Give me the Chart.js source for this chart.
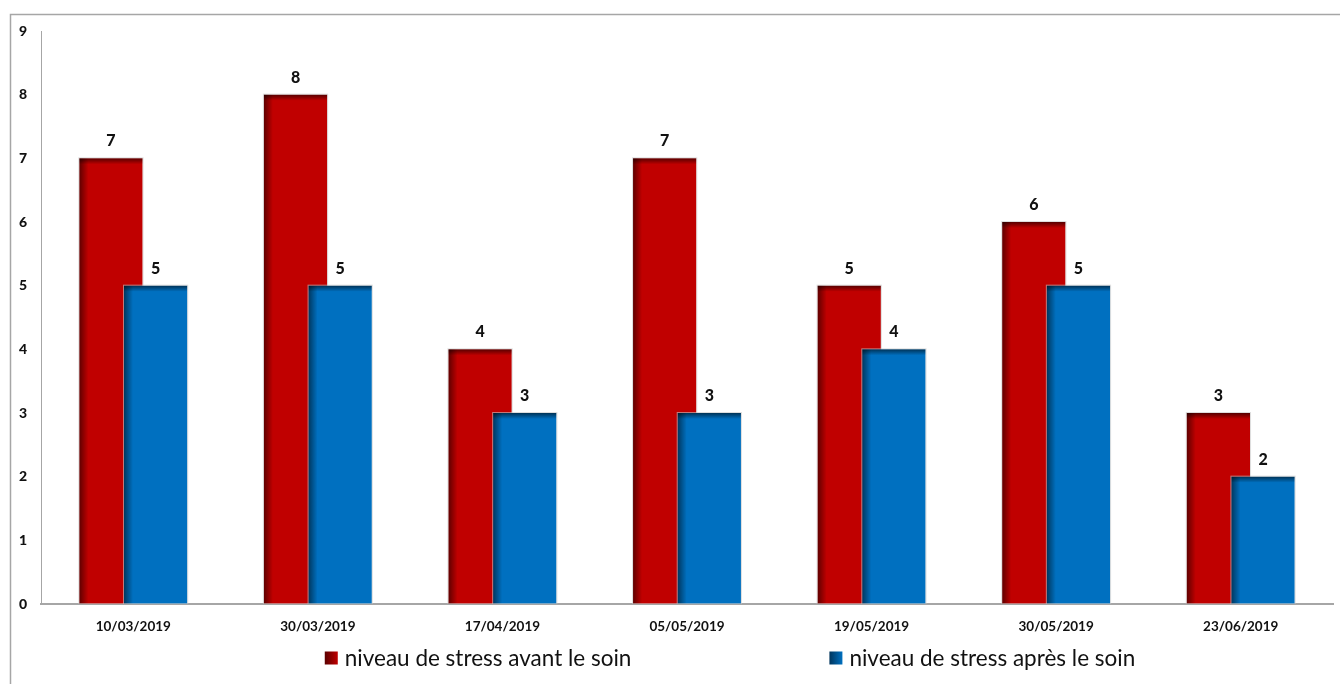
<!DOCTYPE html>
<html>
<head>
<meta charset="utf-8">
<script src="https://cdn.jsdelivr.net/npm/chart.js@4"></script>
<style>
  html, body { margin: 0; padding: 0; background: #fff; }
  #wrap { width: 1340px; height: 684px; position: relative; }
</style>
</head>
<body>
<div id="wrap"><canvas id="c"></canvas></div>
<script>
// Séances (dates) et niveaux de stress relevés avant / après le soin
const dates = ['10/03/2019', '30/03/2019', '17/04/2019', '05/05/2019', '19/05/2019', '30/05/2019', '23/06/2019'];
const stressAvant = [7, 8, 4, 7, 5, 6, 3];
const stressApres = [5, 5, 3, 3, 4, 5, 2];
const yMin = 0;
const yMax = 9;
const yStep = 1;

const labelFont = 'Lato, "Open Sans", sans-serif';

// Cadre gris autour du graphique
const framePlugin = {
  id: 'frame',
  beforeDraw(chart) {
    const ctx = chart.ctx;
    ctx.save();
    ctx.strokeStyle = '#a6a6a6';
    ctx.lineWidth = 1.5;
    ctx.beginPath();
    ctx.moveTo(10.5, chart.height + 5);
    ctx.lineTo(10.5, 14.5);
    ctx.lineTo(chart.width + 5, 14.5);
    ctx.stroke();
    ctx.restore();
  }
};

// Ombre intérieure (haut et gauche) d'une série de barres
function drawBevel(ctx, meta) {
  meta.data.forEach(bar => {
    const p = bar.getProps(['x', 'y', 'base', 'width'], true);
    const left = p.x - p.width / 2;
    const h = p.base - p.y;
    let g = ctx.createLinearGradient(0, p.y, 0, p.y + 6);
    g.addColorStop(0, 'rgba(0,0,0,0.55)');
    g.addColorStop(1, 'rgba(0,0,0,0)');
    ctx.fillStyle = g;
    ctx.fillRect(left, p.y, p.width, 6);
    g = ctx.createLinearGradient(left, 0, left + 9, 0);
    g.addColorStop(0, 'rgba(0,0,0,0.5)');
    g.addColorStop(1, 'rgba(0,0,0,0)');
    ctx.fillStyle = g;
    ctx.fillRect(left, p.y, 9, h);
    ctx.strokeStyle = 'rgba(200,200,200,0.6)';
    ctx.lineWidth = 1;
    ctx.strokeRect(left - 0.5, p.y - 0.5, p.width + 1, h);
  });
}

// Barres dessinées dans l'ordre des séries : la série « après » recouvre la série « avant »
const barOrderPlugin = {
  id: 'barOrder',
  beforeDatasetDraw() { return false; },
  afterDatasetsDraw(chart) {
    const ctx = chart.ctx;
    const area = chart.chartArea;
    chart.data.datasets.forEach((ds, di) => {
      const meta = chart.getDatasetMeta(di);
      ctx.save();
      ctx.beginPath();
      ctx.rect(area.left, area.top - 2, area.width, area.height + 2);
      ctx.clip();
      meta.controller.draw();
      drawBevel(ctx, meta);
      ctx.restore();
    });

    // Valeur affichée au-dessus de chaque barre
    ctx.save();
    ctx.font = '900 16px ' + labelFont;
    ctx.fillStyle = '#111';
    ctx.textAlign = 'center';
    ctx.textBaseline = 'bottom';
    chart.data.datasets.forEach((ds, di) => {
      chart.getDatasetMeta(di).data.forEach((bar, i) => {
        ctx.fillText(String(ds.data[i]), bar.x, bar.y - 9);
      });
    });
    ctx.restore();
  }
};

// Légende en bas, marqueurs carrés dégradés
const bottomLegendPlugin = {
  id: 'bottomLegend',
  afterDraw(chart, args, opts) {
    const ctx = chart.ctx;
    ctx.save();
    ctx.font = opts.fontSize + 'px ' + labelFont;
    ctx.textBaseline = 'middle';
    ctx.textAlign = 'left';
    const box = opts.boxSize;
    const items = chart.data.datasets.map(ds => ({
      label: ds.label,
      color: ds.backgroundColor,
      dark: ds.shadeColor,
      w: box + opts.boxGap + ctx.measureText(ds.label).width
    }));
    const total = items.reduce((s, it) => s + it.w, 0) + opts.itemGap * (items.length - 1);
    let x = opts.centerX - total / 2;
    const y = opts.centerY;
    items.forEach(it => {
      const g = ctx.createLinearGradient(x, 0, x + box, 0);
      g.addColorStop(0, it.dark);
      g.addColorStop(1, it.color);
      ctx.fillStyle = g;
      ctx.fillRect(x, y - box / 2, box, box);
      ctx.fillStyle = '#111';
      ctx.fillText(it.label, x + box + opts.boxGap, y + 1);
      x += it.w + opts.itemGap;
    });
    ctx.restore();
  }
};

new Chart(document.getElementById('c'), {
  type: 'bar',
  data: {
    labels: dates,
    datasets: [
      {
        label: 'niveau de stress avant le soin',
        data: stressAvant,
        backgroundColor: '#c00000',
        shadeColor: '#5a0000',
        borderWidth: 0,
        barPercentage: 1.416,
        categoryPercentage: 0.484
      },
      {
        label: 'niveau de stress après le soin',
        data: stressApres,
        backgroundColor: '#0070c0',
        shadeColor: '#00355c',
        borderWidth: 0,
        barPercentage: 1.416,
        categoryPercentage: 0.484
      }
    ]
  },
  options: {
    responsive: true,
    maintainAspectRatio: false,
    animation: false,
    layout: { padding: { top: 31, left: 0, right: 7, bottom: 40 } },
    plugins: {
      legend: { display: false },
      tooltip: { enabled: false },
      bottomLegend: { centerX: 730, centerY: 658, boxSize: 13, boxGap: 7, itemGap: 198, fontSize: 22.5 }
    },
    scales: {
      x: {
        grid: { display: false, drawTicks: false },
        border: { display: true, color: '#a6a6a6', width: 2 },
        ticks: {
          color: '#111',
          font: { family: labelFont, size: 13.5, weight: 'bold' },
          padding: 15,
          maxRotation: 0
        },
        afterFit(scale) { scale.height = 40; }
      },
      y: {
        min: yMin,
        max: yMax,
        grid: { display: false, drawTicks: false },
        border: { display: true, color: '#a6a6a6', width: 1 },
        ticks: {
          stepSize: yStep,
          color: '#111',
          font: { family: labelFont, size: 14, weight: 900 },
          padding: 14
        },
        afterFit(scale) { scale.width = 41; }
      }
    }
  },
  plugins: [framePlugin, barOrderPlugin, bottomLegendPlugin]
});
</script>
</body>
</html>
